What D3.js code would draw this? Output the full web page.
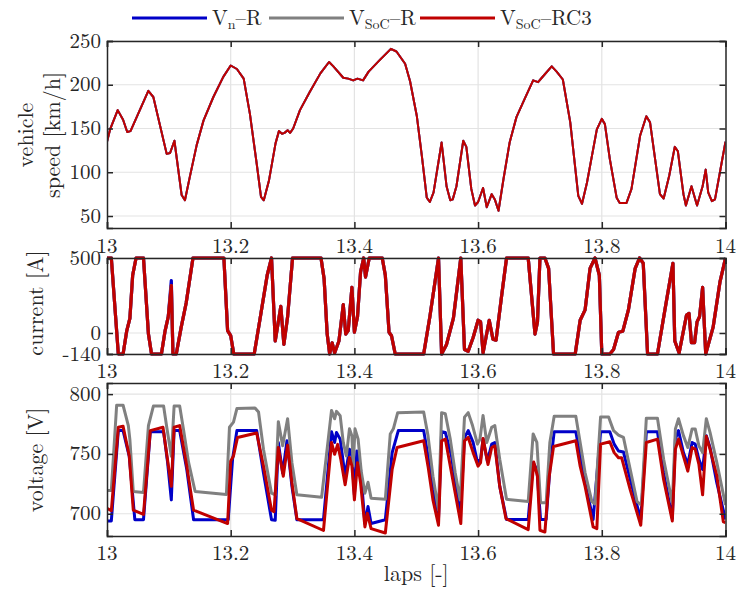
<!DOCTYPE html>
<html>
<head>
<meta charset="utf-8">
<script src="https://cdn.jsdelivr.net/npm/d3@7"></script>
<style>
body { margin: 0; background: #fff; }
</style>
</head>
<body>
<svg id="chart" width="747" height="592"></svg>
<script>
// tick labels
var lapTicks = [13, 13.2, 13.4, 13.6, 13.8, 14];
var speedTicks = [50, 100, 150, 200, 250];
var currentTicks = [-140, 0, 500];
var voltageTicks = [700, 750, 800];

// legend
var seriesNames = [["V", "n", "\u2013R"], ["V", "SoC", "\u2013R"], ["V", "SoC", "\u2013RC3"]];
var seriesColors = ["#0000c8", "#808080", "#c00000"];

var FONT = "Latin Modern Roman";
var INK = "#262626";

// [lap, km/h]
var speed = [[13.000,135],[13.005,149],[13.0173,171],[13.026,160],[13.0327,146],[13.038,147],[13.0668,193],[13.0749,186],[13.0965,121],[13.102,122],[13.109,136],[13.1207,74],[13.126,68],[13.134,95],[13.145,131],[13.156,159],[13.172,186],[13.188,209],[13.2,222],[13.21,218],[13.221,207],[13.231,167],[13.242,110],[13.249,72],[13.2535,68],[13.262,91],[13.2725,133],[13.278,147],[13.283,144],[13.287,145],[13.292,148],[13.296,145],[13.301,150],[13.312,171],[13.328,192],[13.345,213],[13.359,226],[13.366,221],[13.382,208],[13.39,207],[13.398,205],[13.405,207],[13.414,205],[13.423,215],[13.442,229],[13.459,241],[13.468,238],[13.482,224],[13.49,204],[13.501,164],[13.509,119],[13.517,71],[13.522,66],[13.528,77],[13.541,134],[13.549,84],[13.555,68],[13.559,69],[13.565,84],[13.576,136],[13.581,129],[13.589,81],[13.595,62],[13.6,66],[13.608,82],[13.614,60],[13.622,75],[13.627,69],[13.633,56],[13.641,92],[13.651,134],[13.662,163],[13.676,185],[13.689,205],[13.697,203],[13.703,208],[13.719,221],[13.727,215],[13.737,206],[13.749,157],[13.762,73],[13.768,64],[13.776,88],[13.792,149],[13.8,161],[13.805,155],[13.813,115],[13.824,71],[13.829,65],[13.84,65],[13.848,81],[13.862,142],[13.872,164],[13.878,157],[13.894,75],[13.9,70],[13.909,96],[13.918,129],[13.923,124],[13.932,75],[13.936,62],[13.945,84],[13.954,62],[13.963,84],[13.968,103],[13.972,77],[13.978,67],[13.983,69],[13.991,100],[14.0,135]];

// [lap, A]
var currentR = [[13.0,500],[13.007,500],[13.0183,-140],[13.026,-140],[13.032,16],[13.037,97],[13.0415,385],[13.047,500],[13.059,500],[13.067,-7],[13.072,-140],[13.088,-140],[13.094,16],[13.099,108],[13.104,350],[13.1066,-140],[13.112,-140],[13.12,39],[13.128,200],[13.139,500],[13.189,500],[13.195,16],[13.2,-18],[13.205,-140],[13.238,-140],[13.248,108],[13.259,385],[13.266,500],[13.272,-53],[13.281,177],[13.286,-76],[13.292,108],[13.3,500],[13.346,500],[13.351,362],[13.356,-7],[13.36,-140],[13.364,-65],[13.368,-133],[13.375,-53],[13.382,189],[13.386,-7],[13.39,16],[13.396,304],[13.4,5],[13.405,108],[13.41,408],[13.415,500],[13.418,373],[13.424,500],[13.445,500],[13.45,385],[13.456,5],[13.46,-18],[13.466,-140],[13.512,-140],[13.522,108],[13.536,500],[13.541,-140],[13.549,-76],[13.56,97],[13.572,500],[13.578,-110],[13.584,-122],[13.592,-30],[13.6,85],[13.604,74],[13.608,-133],[13.618,85],[13.624,-41],[13.629,-48],[13.638,247],[13.646,500],[13.681,500],[13.692,-7],[13.696,74],[13.7,500],[13.708,500],[13.714,431],[13.722,-140],[13.757,-140],[13.765,85],[13.773,154],[13.781,431],[13.789,500],[13.796,385],[13.8,-140],[13.813,-140],[13.819,-110],[13.827,5],[13.834,12],[13.843,154],[13.854,431],[13.861,500],[13.867,465],[13.874,-140],[13.89,-140],[13.902,154],[13.915,465],[13.918,-53],[13.925,-133],[13.937,120],[13.941,131],[13.945,-65],[13.95,-65],[13.954,74],[13.958,108],[13.963,304],[13.968,-140],[13.98,39],[13.991,339],[14.0,500]];
var currentRC3 = [[13.0,500],[13.007,500],[13.0183,-140],[13.026,-140],[13.032,16],[13.037,97],[13.0415,385],[13.047,500],[13.059,500],[13.067,-7],[13.072,-140],[13.088,-140],[13.094,16],[13.099,108],[13.104,316],[13.1066,-140],[13.112,-140],[13.12,39],[13.128,200],[13.139,500],[13.189,500],[13.195,16],[13.2,-18],[13.205,-140],[13.238,-140],[13.248,108],[13.259,385],[13.266,500],[13.272,-53],[13.281,177],[13.286,-76],[13.292,108],[13.3,500],[13.346,500],[13.351,362],[13.356,-7],[13.36,-140],[13.364,-65],[13.368,-133],[13.375,-53],[13.382,189],[13.386,-7],[13.39,16],[13.396,304],[13.4,5],[13.405,108],[13.41,408],[13.415,500],[13.418,373],[13.424,500],[13.445,500],[13.45,385],[13.456,5],[13.46,-18],[13.466,-140],[13.512,-140],[13.522,108],[13.536,500],[13.541,-140],[13.549,-76],[13.56,97],[13.572,500],[13.578,-110],[13.584,-122],[13.592,-30],[13.6,85],[13.604,74],[13.608,-133],[13.618,85],[13.624,-41],[13.629,-48],[13.638,247],[13.646,500],[13.681,500],[13.692,-7],[13.696,74],[13.7,500],[13.708,500],[13.714,431],[13.722,-140],[13.757,-140],[13.765,85],[13.773,154],[13.781,431],[13.789,500],[13.796,385],[13.8,-140],[13.813,-140],[13.819,-110],[13.827,5],[13.834,12],[13.843,154],[13.854,431],[13.861,500],[13.867,465],[13.874,-140],[13.89,-140],[13.902,154],[13.915,465],[13.918,-53],[13.925,-133],[13.937,120],[13.941,131],[13.945,-65],[13.95,-65],[13.954,74],[13.958,108],[13.963,304],[13.968,-140],[13.98,39],[13.991,339],[14.0,500]];

// [lap, V]
var voltageN = [[13.0,694],[13.007,694],[13.0183,769.5],[13.026,769.5],[13.036,748],[13.045,695],[13.059,695],[13.07,768.6],[13.0915,768.6],[13.098,742.7],[13.104,711.6],[13.1085,769.5],[13.1175,769.5],[13.129,737],[13.14,695],[13.196,695],[13.203,745.5],[13.21,769.5],[13.242,769.5],[13.253,734],[13.266,695],[13.272,694.6],[13.277,759.6],[13.284,734],[13.291,761],[13.299,722.9],[13.307,695],[13.35,695],[13.363,768.6],[13.368,759.6],[13.371,768],[13.377,762.4],[13.385,731.4],[13.392,754],[13.396,748.3],[13.4,715.8],[13.404,752.5],[13.41,737],[13.417,691.8],[13.422,706],[13.427,691.8],[13.45,695],[13.461,751],[13.471,769.5],[13.512,769.5],[13.519,748.3],[13.527,720],[13.536,696],[13.541,768.6],[13.547,768],[13.557,748.3],[13.571,697.5],[13.578,763.8],[13.584,769.5],[13.592,759.6],[13.599,742.7],[13.604,745.5],[13.608,762.4],[13.615,744],[13.622,758.2],[13.627,759.6],[13.635,722.9],[13.646,695.2],[13.681,695.2],[13.689,742.7],[13.695,737],[13.701,695.2],[13.71,695.2],[13.716,737],[13.723,768.6],[13.758,768.6],[13.765,748.3],[13.773,725.7],[13.786,695.2],[13.798,768.6],[13.813,768.6],[13.82,758.2],[13.827,752.5],[13.835,751.7],[13.846,728.5],[13.863,695.2],[13.872,768.6],[13.89,768.6],[13.9,734.2],[13.914,696],[13.919,762.4],[13.924,769.5],[13.932,751.1],[13.939,741.2],[13.946,759.6],[13.951,758.2],[13.957,745.5],[13.963,737],[13.969,765.3],[13.975,755.4],[13.986,725.7],[14.0,695.2]];
var voltageSoC = [[13.0,719.5],[13.007,719.5],[13.0156,790.7],[13.026,790.7],[13.0345,773.7],[13.037,762],[13.0425,718.6],[13.059,717.8],[13.067,773.7],[13.075,790],[13.0915,790],[13.097,771],[13.104,748],[13.1085,790],[13.1175,790],[13.1235,771],[13.132,742.7],[13.1425,718.6],[13.193,716],[13.198,772.3],[13.2045,776.6],[13.21,787.9],[13.2393,788.4],[13.245,785],[13.253,754],[13.266,717.2],[13.272,715.8],[13.277,777],[13.284,756.8],[13.292,779.4],[13.299,742.7],[13.307,715.8],[13.347,713.8],[13.354,745.5],[13.363,786.4],[13.368,779.4],[13.371,785.6],[13.377,782],[13.382,759.6],[13.387,748.3],[13.392,771],[13.396,765],[13.398,740],[13.401,771],[13.406,762.4],[13.411,735.6],[13.417,717.2],[13.422,726.3],[13.427,713],[13.45,712.1],[13.458,766.7],[13.463,771],[13.47,784.5],[13.512,785],[13.519,765.3],[13.527,731.4],[13.536,703.1],[13.541,784.5],[13.547,783.6],[13.555,762.4],[13.563,734.2],[13.571,711.6],[13.578,780.8],[13.584,784.5],[13.591,773.7],[13.599,758.2],[13.603,762.4],[13.608,782.2],[13.614,759.6],[13.622,772.3],[13.627,773.7],[13.635,745.5],[13.646,712.1],[13.681,710.2],[13.689,766.7],[13.695,759.6],[13.701,709.3],[13.71,709.3],[13.716,759.6],[13.723,781.6],[13.758,781.6],[13.765,759.6],[13.773,734.2],[13.784,710.2],[13.789,708.2],[13.798,780.8],[13.811,780.8],[13.819,769.5],[13.827,765.8],[13.835,763.8],[13.846,737],[13.857,710.2],[13.864,707.3],[13.872,779.9],[13.89,779.9],[13.9,745.5],[13.914,708.8],[13.919,770.9],[13.924,779.4],[13.932,765.3],[13.939,755.4],[13.946,770.9],[13.951,770.9],[13.957,756.8],[13.963,751.1],[13.969,779.4],[13.975,768],[13.986,742.7],[14.0,707.3]];
var voltageRC3 = [[13.0,704.5],[13.007,702.5],[13.0183,772.3],[13.026,773.2],[13.036,748.3],[13.0425,703],[13.059,699.4],[13.07,769.5],[13.0905,772.3],[13.097,748.3],[13.104,722.9],[13.1085,772.3],[13.1175,773.7],[13.129,739.8],[13.14,703],[13.195,691.8],[13.2,744],[13.2045,748.3],[13.211,763.8],[13.242,767.5],[13.253,739.8],[13.266,703],[13.27,701.7],[13.277,755.4],[13.285,731.4],[13.292,757.3],[13.299,725.7],[13.307,696],[13.35,686],[13.363,759.6],[13.368,749.7],[13.373,758],[13.378,745.5],[13.385,724.3],[13.392,747],[13.396,740],[13.4,711.6],[13.405,742.7],[13.41,725.7],[13.417,689],[13.421,700.3],[13.427,687.6],[13.45,683.9],[13.461,737],[13.469,755.4],[13.512,761],[13.519,739.8],[13.527,711.6],[13.536,690.4],[13.541,761],[13.547,762.4],[13.557,734.2],[13.572,691.8],[13.578,761],[13.584,763.8],[13.592,751.1],[13.6,739.8],[13.604,742.7],[13.608,763],[13.616,741.2],[13.622,755.4],[13.627,756.8],[13.635,722.9],[13.645,696],[13.681,686.7],[13.69,743.2],[13.696,731.4],[13.7,686.2],[13.708,684.7],[13.715,731.4],[13.722,756.2],[13.758,761],[13.765,739.8],[13.773,722.9],[13.786,689],[13.792,687.6],[13.798,758.2],[13.813,760.2],[13.82,751.1],[13.827,746.9],[13.832,746.9],[13.846,720],[13.863,690.4],[13.872,759.6],[13.89,762.4],[13.9,728.5],[13.914,694],[13.919,754],[13.924,762.4],[13.932,748.3],[13.939,735.6],[13.946,755.4],[13.951,754],[13.957,741.2],[13.963,715.8],[13.969,764.7],[13.975,754],[13.986,731.4],[13.9965,693.2],[14.0,692.6]];

var svg = d3.select("#chart");
var left = 107, right = 725.5;
var x = d3.scaleLinear().domain([13, 14]).range([left, right]);

var panels = [
    { id: "speed", top: 41, bottom: 228, domain: [36.3, 250], ticks: speedTicks,
      series: [speed, speed, speed], width: 2, label: ["vehicle", "speed [km/h]"], labelX: [33, 60], labelY: 135, xLabelY: 253 },
    { id: "current", top: 258, bottom: 354, domain: [-140, 500], ticks: currentTicks,
      series: [currentR, currentRC3, currentRC3], width: 3.2, label: ["current [A]"], labelX: [43], labelY: 303, xLabelY: 378 },
    { id: "voltage", top: 383, bottom: 536, domain: [681.4, 809.3], ticks: voltageTicks,
      series: [voltageN, voltageSoC, voltageRC3], width: 3, label: ["voltage [V]"], labelX: [43], labelY: 460, xLabelY: 560 }
];

function addText(sel) {
    return sel.append("text")
        .attr("font-family", FONT)
        .attr("font-size", 21)
        .attr("fill", INK);
}

panels.forEach(function(p) {
    var y = d3.scaleLinear().domain(p.domain).range([p.bottom, p.top]);
    var g = svg.append("g");

    //grid
    g.append("g").selectAll("line").data(lapTicks.slice(1, -1)).enter().append("line")
        .attr("x1", function(d) { return x(d); }).attr("x2", function(d) { return x(d); })
        .attr("y1", p.top).attr("y2", p.bottom)
        .style("stroke", "#e3e3e3").style("stroke-width", "1.2px");
    g.append("g").selectAll("line").data(p.ticks).enter().append("line")
        .attr("x1", left).attr("x2", right)
        .attr("y1", function(d) { return y(d); }).attr("y2", function(d) { return y(d); })
        .style("stroke", "#e3e3e3").style("stroke-width", "1.2px");

    //lines
    g.append("clipPath").attr("id", "clip-" + p.id).append("rect")
        .attr("x", left).attr("y", p.top - 2).attr("width", right - left).attr("height", p.bottom - p.top + 4);
    var line = d3.line()
        .x(function(d) { return x(d[0]); })
        .y(function(d) { return y(d[1]); });
    g.append("g").attr("clip-path", "url(#clip-" + p.id + ")")
        .selectAll("path").data(p.series).enter().append("path")
        .attr("d", line)
        .style("fill", "none")
        .style("stroke", function(d, i) { return seriesColors[i]; })
        .style("stroke-width", p.width + "px")
        .style("stroke-linejoin", "round");

    //axes, ticks pointing inwards
    var axL = g.append("g").attr("transform", "translate(" + left + ",0)")
        .call(d3.axisLeft(y).tickValues(p.ticks).tickSize(-6).tickFormat(""));
    var axR = g.append("g").attr("transform", "translate(" + right + ",0)")
        .call(d3.axisRight(y).tickValues(p.ticks).tickSize(-6).tickFormat(""));
    var axB = g.append("g").attr("transform", "translate(0," + p.bottom + ")")
        .call(d3.axisBottom(x).tickValues(lapTicks).tickSize(-6).tickFormat(""));
    var axT = g.append("g").attr("transform", "translate(0," + p.top + ")")
        .call(d3.axisTop(x).tickValues(lapTicks).tickSize(-6).tickFormat(""));
    [axL, axR, axB, axT].forEach(function(a) {
        a.select(".domain").style("stroke", INK).style("stroke-width", "1.5px");
        a.selectAll(".tick line").style("stroke", INK).style("stroke-width", "1.5px");
    });

    //y tick labels
    p.ticks.forEach(function(t) {
        addText(g).attr("x", left - 6).attr("y", y(t) + 6.5)
            .attr("text-anchor", "end")
            .text(t);
    });

    //x tick labels
    lapTicks.forEach(function(t) {
        addText(g).attr("x", x(t)).attr("y", p.xLabelY)
            .attr("text-anchor", "middle")
            .text(d3.format("~g")(t));
    });

    //y label
    p.label.forEach(function(t, i) {
        addText(g)
            .attr("transform", "translate(" + p.labelX[i] + "," + p.labelY + ") rotate(-90)")
            .attr("text-anchor", "middle")
            .attr("font-size", 22)
            .text(t);
    });
});

addText(svg)
    .attr("x", (left + right) / 2).attr("y", 581)
    .attr("text-anchor", "middle")
    .attr("font-size", 22)
    .text("laps [-]");

//legend
var legendX = [132, 269, 420];
seriesNames.forEach(function(d, i) {
    var lg = svg.append("g").attr("transform", "translate(" + legendX[i] + ",18)");
    lg.append("line")
        .attr("x1", 0).attr("x2", 75)
        .style("stroke", seriesColors[i])
        .style("stroke-width", "3px");
    var lt = addText(lg).attr("x", 80).attr("y", 7);
    lt.append("tspan").text(d[0]);
    lt.append("tspan").attr("dy", 4).attr("font-size", 14).text(d[1]);
    lt.append("tspan").attr("dy", -4).text(d[2]);
});
</script>
</body>
</html>
